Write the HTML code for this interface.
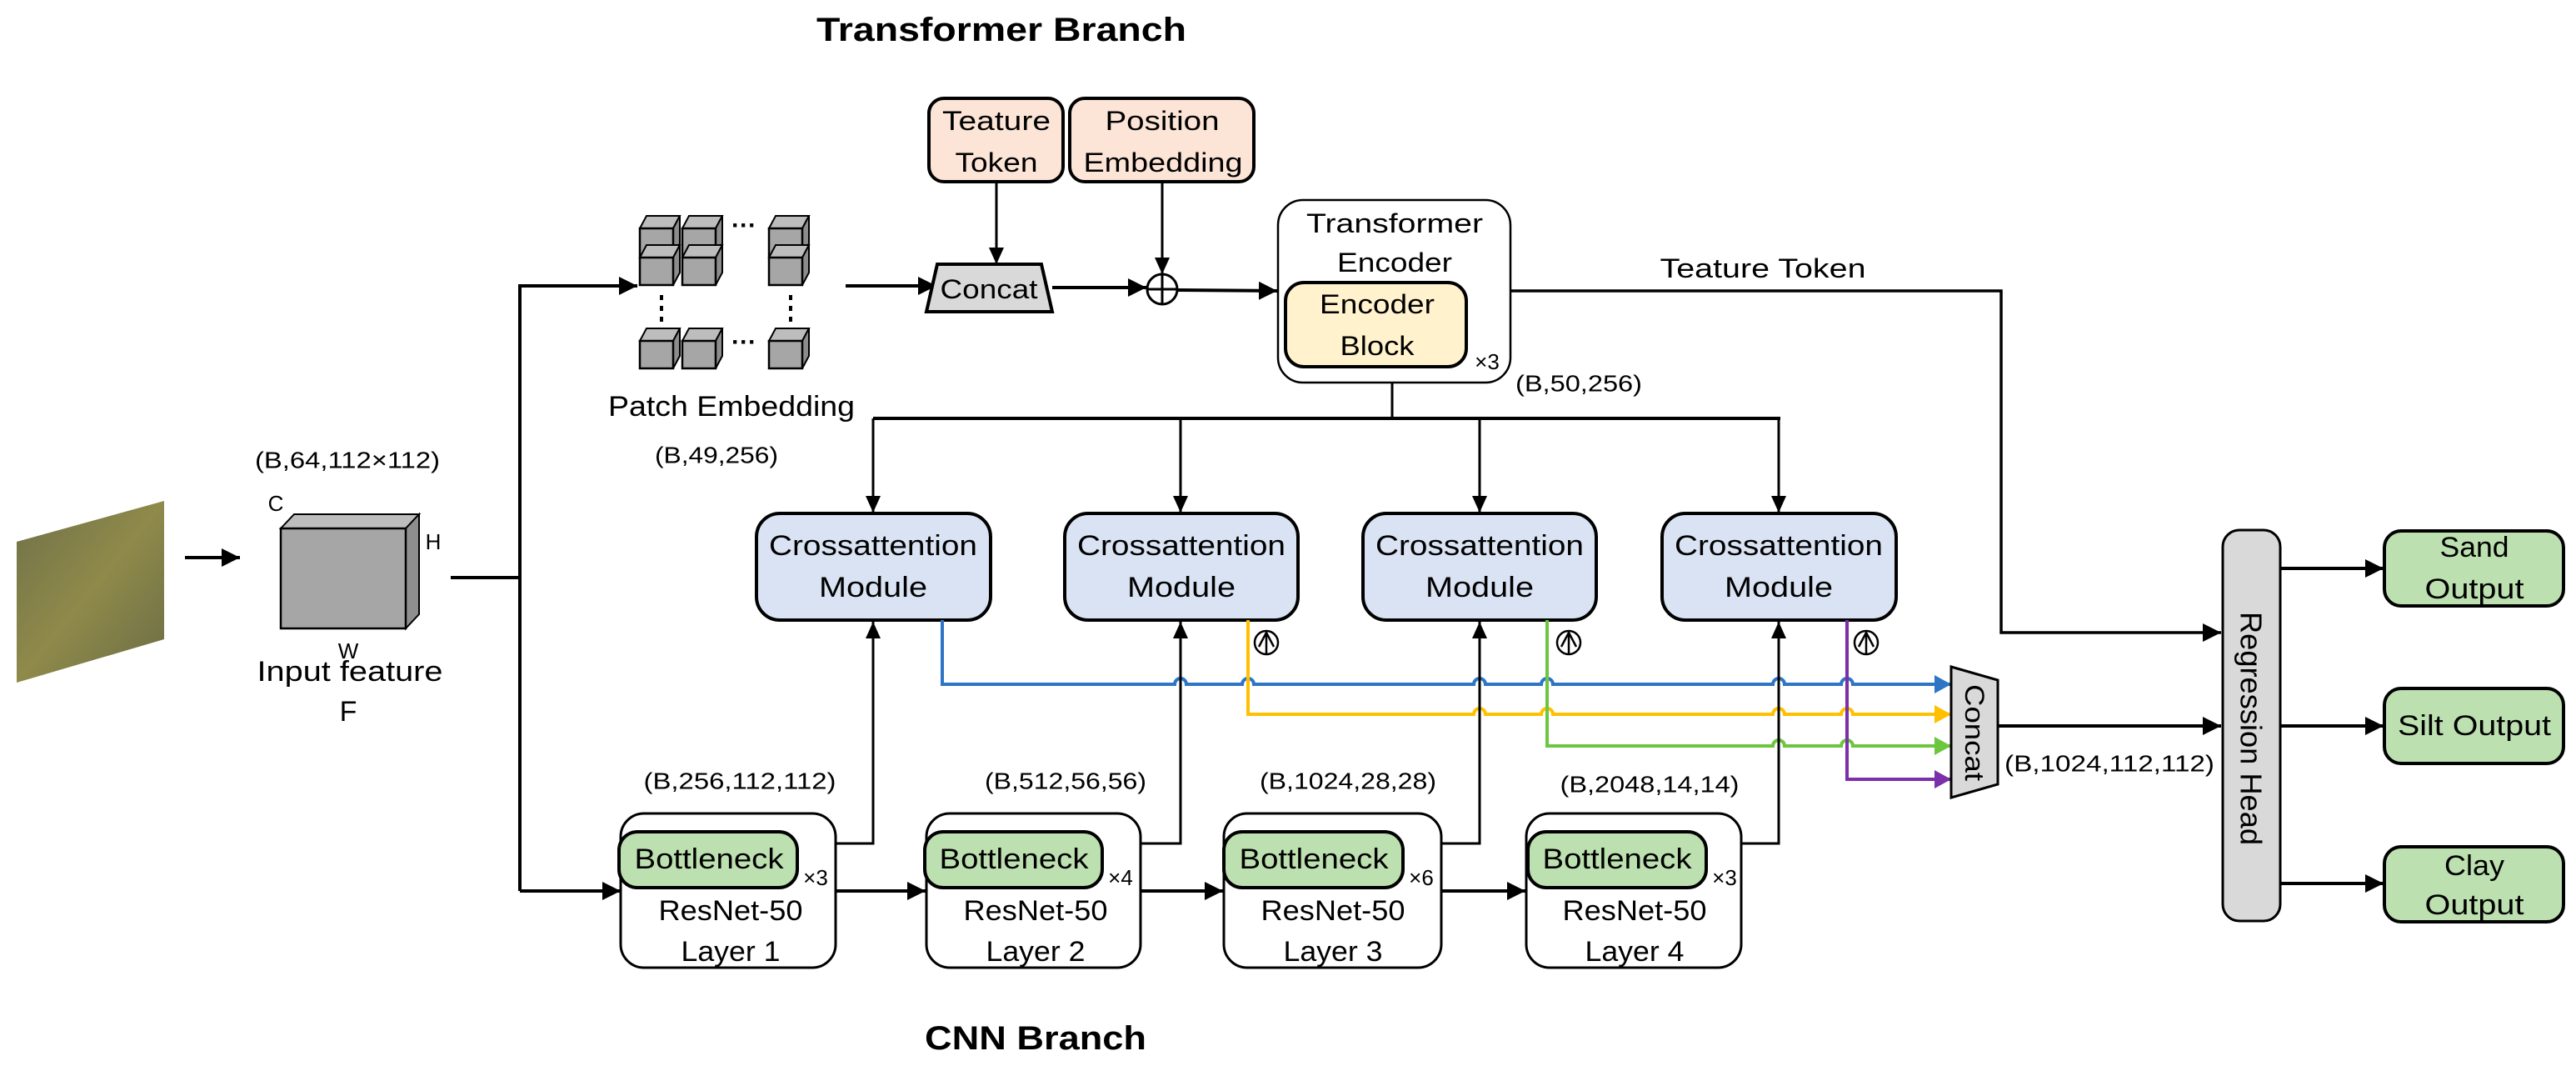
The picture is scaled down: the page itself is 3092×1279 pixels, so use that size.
<!DOCTYPE html>
<html><head><meta charset="utf-8"><style>
html,body{margin:0;padding:0;background:#fff;}
svg{display:block;}
text{font-family:"Liberation Sans",sans-serif;fill:#000;}
</style></head><body>
<svg width="3092" height="1279" viewBox="0 0 3092 1279" xmlns="http://www.w3.org/2000/svg">
<defs>
<marker id="ah" markerUnits="userSpaceOnUse" markerWidth="24" markerHeight="22" refX="22" refY="11" orient="auto"><path d="M0,0 L22,11 L0,22 z" fill="#000"/></marker>
<marker id="ahs" markerUnits="userSpaceOnUse" markerWidth="20" markerHeight="18" refX="20" refY="9" orient="auto"><path d="M0,0 L20,9 L0,18 z" fill="#000"/></marker>
<marker id="ab" markerUnits="userSpaceOnUse" markerWidth="22" markerHeight="22" refX="20" refY="11" orient="auto"><path d="M0,0 L20,11 L0,22 z" fill="#2E75C6"/></marker>
<marker id="ay" markerUnits="userSpaceOnUse" markerWidth="22" markerHeight="22" refX="20" refY="11" orient="auto"><path d="M0,0 L20,11 L0,22 z" fill="#FFC000"/></marker>
<marker id="ag" markerUnits="userSpaceOnUse" markerWidth="22" markerHeight="22" refX="20" refY="11" orient="auto"><path d="M0,0 L20,11 L0,22 z" fill="#6DC640"/></marker>
<marker id="ap" markerUnits="userSpaceOnUse" markerWidth="22" markerHeight="22" refX="20" refY="11" orient="auto"><path d="M0,0 L20,11 L0,22 z" fill="#7B2FA8"/></marker>
<linearGradient id="soil" x1="0" y1="0" x2="1" y2="1">
<stop offset="0" stop-color="#6f7048"/><stop offset="0.5" stop-color="#8f8a4a"/><stop offset="1" stop-color="#6a6c45"/></linearGradient>
<g id="cube"><path d="M0,0 h40 l8,-15 h-40 z" fill="#BDBDBD" stroke="#000" stroke-width="2"/><path d="M40,0 l8,-15 v33 l-8,15 z" fill="#8c8c8c" stroke="#000" stroke-width="2"/><rect x="0" y="0" width="40" height="33" fill="#A6A6A6" stroke="#000" stroke-width="2.5"/></g>
</defs>

<text x="1202" y="36" font-size="40" font-weight="bold" text-anchor="middle" dominant-baseline="central" textLength="444" lengthAdjust="spacingAndGlyphs">Transformer Branch</text>
<text x="1243" y="1246" font-size="40" font-weight="bold" text-anchor="middle" dominant-baseline="central" textLength="266" lengthAdjust="spacingAndGlyphs">CNN Branch</text>

<path d="M20,650 L197,601 L197,767 L20,819 z" fill="url(#soil)"/>
<line x1="222" y1="669" x2="288" y2="669" stroke="#000" stroke-width="4" marker-end="url(#ah)"/>

<path d="M337,634 l16,-17 h150 l-16,17 z" fill="#bdbdbd" stroke="#000" stroke-width="2"/>
<path d="M487,634 l16,-17 v120 l-16,17 z" fill="#8f8f8f" stroke="#000" stroke-width="2"/>
<rect x="337" y="634" width="150" height="120" fill="#A6A6A6" stroke="#000" stroke-width="2.5"/>
<text x="417" y="552" font-size="28" text-anchor="middle" dominant-baseline="central" textLength="222" lengthAdjust="spacingAndGlyphs">(B,64,112×112)</text>
<text x="331" y="604" font-size="26" text-anchor="middle" dominant-baseline="central">C</text>
<text x="520" y="650" font-size="26" text-anchor="middle" dominant-baseline="central">H</text>
<text x="418" y="781" font-size="26" text-anchor="middle" dominant-baseline="central">W</text>
<text x="420" y="806" font-size="34" text-anchor="middle" dominant-baseline="central" textLength="223" lengthAdjust="spacingAndGlyphs">Input feature</text>
<text x="418" y="854" font-size="34" text-anchor="middle" dominant-baseline="central">F</text>

<polyline points="541,693 624,693" fill="none" stroke="#000" stroke-width="4"/>
<polyline points="624,1069 624,343 765,343" fill="none" stroke="#000" stroke-width="4" marker-end="url(#ah)"/>
<polyline points="624,1069 745,1069" fill="none" stroke="#000" stroke-width="4" marker-end="url(#ah)"/>

<use href="#cube" x="768" y="274"/><use href="#cube" x="819" y="274"/><use href="#cube" x="923" y="274"/>
<use href="#cube" x="768" y="309"/><use href="#cube" x="819" y="309"/><use href="#cube" x="923" y="309"/>
<use href="#cube" x="768" y="409"/><use href="#cube" x="819" y="409"/><use href="#cube" x="923" y="409"/>
<text x="893" y="280" font-size="30" text-anchor="middle" font-weight="bold">···</text>
<text x="893" y="420" font-size="30" text-anchor="middle" font-weight="bold">···</text>
<line x1="794" y1="354" x2="794" y2="386" stroke="#000" stroke-width="4" stroke-dasharray="6,7"/>
<line x1="949" y1="354" x2="949" y2="386" stroke="#000" stroke-width="4" stroke-dasharray="6,7"/>
<text x="878" y="488" font-size="34" text-anchor="middle" dominant-baseline="central" textLength="296" lengthAdjust="spacingAndGlyphs">Patch Embedding</text>
<text x="860" y="546" font-size="28" text-anchor="middle" dominant-baseline="central" textLength="148" lengthAdjust="spacingAndGlyphs">(B,49,256)</text>

<rect x="1115" y="118" width="161" height="100" rx="18" fill="#FCE4D6" stroke="#000" stroke-width="4"/>
<text x="1196" y="145" font-size="32" text-anchor="middle" dominant-baseline="central" textLength="130" lengthAdjust="spacingAndGlyphs">Teature</text>
<text x="1196" y="195" font-size="32" text-anchor="middle" dominant-baseline="central" textLength="99" lengthAdjust="spacingAndGlyphs">Token</text>
<rect x="1284" y="118" width="221" height="100" rx="18" fill="#FCE4D6" stroke="#000" stroke-width="4"/>
<text x="1395" y="145" font-size="32" text-anchor="middle" dominant-baseline="central" textLength="137" lengthAdjust="spacingAndGlyphs">Position</text>
<text x="1396" y="195" font-size="32" text-anchor="middle" dominant-baseline="central" textLength="191" lengthAdjust="spacingAndGlyphs">Embedding</text>
<line x1="1196" y1="218" x2="1196" y2="317" stroke="#000" stroke-width="3" marker-end="url(#ahs)"/>
<line x1="1395" y1="218" x2="1395" y2="329" stroke="#000" stroke-width="3" marker-end="url(#ahs)"/>

<line x1="1015" y1="343" x2="1124" y2="343" stroke="#000" stroke-width="4" marker-end="url(#ah)"/>
<path d="M1125,317 L1250,317 L1263,374 L1112,374 z" fill="#D9D9D9" stroke="#000" stroke-width="4"/>
<text x="1187" y="347" font-size="32" text-anchor="middle" dominant-baseline="central" textLength="117" lengthAdjust="spacingAndGlyphs">Concat</text>
<line x1="1263" y1="345" x2="1376" y2="345" stroke="#000" stroke-width="4" marker-end="url(#ah)"/>
<circle cx="1395" cy="347" r="18" fill="#fff" stroke="#000" stroke-width="3"/>
<line x1="1377" y1="347" x2="1413" y2="347" stroke="#000" stroke-width="3"/>
<line x1="1395" y1="329" x2="1395" y2="365" stroke="#000" stroke-width="3"/>
<line x1="1413" y1="348" x2="1533" y2="349" stroke="#000" stroke-width="4" marker-end="url(#ah)"/>

<rect x="1534" y="240" width="279" height="219" rx="30" fill="#fff" stroke="#000" stroke-width="2.5"/>
<text x="1674" y="268" font-size="32" text-anchor="middle" dominant-baseline="central" textLength="212" lengthAdjust="spacingAndGlyphs">Transformer</text>
<text x="1674" y="315" font-size="32" text-anchor="middle" dominant-baseline="central" textLength="138" lengthAdjust="spacingAndGlyphs">Encoder</text>
<rect x="1543" y="339" width="217" height="101" rx="22" fill="#FFF2CC" stroke="#000" stroke-width="4"/>
<text x="1653" y="365" font-size="32" text-anchor="middle" dominant-baseline="central" textLength="138" lengthAdjust="spacingAndGlyphs">Encoder</text>
<text x="1653" y="415" font-size="32" text-anchor="middle" dominant-baseline="central" textLength="89" lengthAdjust="spacingAndGlyphs">Block</text>
<text x="1785" y="434" font-size="26" text-anchor="middle" dominant-baseline="central">×3</text>
<text x="1895" y="460" font-size="28" text-anchor="middle" dominant-baseline="central" textLength="152" lengthAdjust="spacingAndGlyphs">(B,50,256)</text>

<text x="2116" y="322" font-size="32" text-anchor="middle" dominant-baseline="central" textLength="247" lengthAdjust="spacingAndGlyphs">Teature Token</text>
<polyline points="1813,349 2402,349 2402,759 2666,759" fill="none" stroke="#000" stroke-width="3.5" marker-end="url(#ah)"/>

<polyline points="1671,459 1671,502" fill="none" stroke="#000" stroke-width="3"/>
<line x1="1048" y1="502" x2="2137" y2="502" stroke="#000" stroke-width="4"/>
<line x1="1048" y1="502" x2="1048" y2="615" stroke="#000" stroke-width="3" marker-end="url(#ahs)"/>
<line x1="1417" y1="502" x2="1417" y2="615" stroke="#000" stroke-width="3" marker-end="url(#ahs)"/>
<line x1="1776" y1="502" x2="1776" y2="615" stroke="#000" stroke-width="3" marker-end="url(#ahs)"/>
<line x1="2135" y1="502" x2="2135" y2="615" stroke="#000" stroke-width="3" marker-end="url(#ahs)"/>

<g font-size="34">
<rect x="908" y="616" width="281" height="128" rx="28" fill="#DAE3F3" stroke="#000" stroke-width="4"/>
<text x="1048" y="655" text-anchor="middle" dominant-baseline="central" textLength="250" lengthAdjust="spacingAndGlyphs">Crossattention</text>
<text x="1048" y="705" text-anchor="middle" dominant-baseline="central" textLength="130" lengthAdjust="spacingAndGlyphs">Module</text>
<rect x="1278" y="616" width="280" height="128" rx="28" fill="#DAE3F3" stroke="#000" stroke-width="4"/>
<text x="1418" y="655" text-anchor="middle" dominant-baseline="central" textLength="250" lengthAdjust="spacingAndGlyphs">Crossattention</text>
<text x="1418" y="705" text-anchor="middle" dominant-baseline="central" textLength="130" lengthAdjust="spacingAndGlyphs">Module</text>
<rect x="1636" y="616" width="280" height="128" rx="28" fill="#DAE3F3" stroke="#000" stroke-width="4"/>
<text x="1776" y="655" text-anchor="middle" dominant-baseline="central" textLength="250" lengthAdjust="spacingAndGlyphs">Crossattention</text>
<text x="1776" y="705" text-anchor="middle" dominant-baseline="central" textLength="130" lengthAdjust="spacingAndGlyphs">Module</text>
<rect x="1995" y="616" width="281" height="128" rx="28" fill="#DAE3F3" stroke="#000" stroke-width="4"/>
<text x="2135" y="655" text-anchor="middle" dominant-baseline="central" textLength="250" lengthAdjust="spacingAndGlyphs">Crossattention</text>
<text x="2135" y="705" text-anchor="middle" dominant-baseline="central" textLength="130" lengthAdjust="spacingAndGlyphs">Module</text>
</g>

<g fill="none" stroke="#000" stroke-width="2.5">
<circle cx="1520" cy="771" r="14"/><path d="M1520,785 V759 M1511,776 L1520,759 L1529,776"/>
<circle cx="1883" cy="771" r="14"/><path d="M1883,785 V759 M1874,776 L1883,759 L1892,776"/>
<circle cx="2240" cy="771" r="14"/><path d="M2240,785 V759 M2231,776 L2240,759 L2249,776"/>
</g>

<g fill="none" stroke-width="4">
<path d="M1131,744 V821 H1410 a7,7 0 0 1 14,0 H1491 a7,7 0 0 1 14,0 H1769 a7,7 0 0 1 14,0 H1850 a7,7 0 0 1 14,0 H2128 a7,7 0 0 1 14,0 H2210 a7,7 0 0 1 14,0 H2342" stroke="#2E75C6" marker-end="url(#ab)"/>
<path d="M1498,744 V857 H1769 a7,7 0 0 1 14,0 H1850 a7,7 0 0 1 14,0 H2128 a7,7 0 0 1 14,0 H2210 a7,7 0 0 1 14,0 H2342" stroke="#FFC000" marker-end="url(#ay)"/>
<path d="M1857,744 V895 H2128 a7,7 0 0 1 14,0 H2210 a7,7 0 0 1 14,0 H2342" stroke="#6DC640" marker-end="url(#ag)"/>
<path d="M2217,744 V935 H2342" stroke="#7B2FA8" marker-end="url(#ap)"/>
</g>

<g fill="none" stroke="#000" stroke-width="3">
<polyline points="1003,1012 1048,1012 1048,746" marker-end="url(#ahs)"/>
<polyline points="1369,1012 1417,1012 1417,746" marker-end="url(#ahs)"/>
<polyline points="1730,1012 1776,1012 1776,746" marker-end="url(#ahs)"/>
<polyline points="2090,1012 2135,1012 2135,746" marker-end="url(#ahs)"/>
</g>

<g font-size="28" text-anchor="middle">
<text x="888" y="937" dominant-baseline="central" textLength="231" lengthAdjust="spacingAndGlyphs">(B,256,112,112)</text>
<text x="1279" y="937" dominant-baseline="central" textLength="194" lengthAdjust="spacingAndGlyphs">(B,512,56,56)</text>
<text x="1618" y="937" dominant-baseline="central" textLength="212" lengthAdjust="spacingAndGlyphs">(B,1024,28,28)</text>
<text x="1980" y="941" dominant-baseline="central" textLength="215" lengthAdjust="spacingAndGlyphs">(B,2048,14,14)</text>
<text x="2532" y="916" dominant-baseline="central" textLength="252" lengthAdjust="spacingAndGlyphs">(B,1024,112,112)</text>
</g>

<g font-size="34">
<rect x="745" y="976" width="258" height="185" rx="28" fill="#fff" stroke="#000" stroke-width="3"/>
<rect x="743" y="998" width="214" height="67" rx="22" fill="#BDE0B0" stroke="#000" stroke-width="4"/>
<text x="851" y="1031" text-anchor="middle" dominant-baseline="central" textLength="179" lengthAdjust="spacingAndGlyphs">Bottleneck</text>
<text x="979" y="1053" font-size="26" text-anchor="middle" dominant-baseline="central">×3</text>
<text x="877" y="1093" text-anchor="middle" dominant-baseline="central" textLength="173" lengthAdjust="spacingAndGlyphs">ResNet-50</text>
<text x="877" y="1142" text-anchor="middle" dominant-baseline="central" textLength="119" lengthAdjust="spacingAndGlyphs">Layer 1</text>

<rect x="1112" y="976" width="257" height="185" rx="28" fill="#fff" stroke="#000" stroke-width="3"/>
<rect x="1110" y="998" width="213" height="67" rx="22" fill="#BDE0B0" stroke="#000" stroke-width="4"/>
<text x="1217" y="1031" text-anchor="middle" dominant-baseline="central" textLength="179" lengthAdjust="spacingAndGlyphs">Bottleneck</text>
<text x="1345" y="1053" font-size="26" text-anchor="middle" dominant-baseline="central">×4</text>
<text x="1243" y="1093" text-anchor="middle" dominant-baseline="central" textLength="173" lengthAdjust="spacingAndGlyphs">ResNet-50</text>
<text x="1243" y="1142" text-anchor="middle" dominant-baseline="central" textLength="119" lengthAdjust="spacingAndGlyphs">Layer 2</text>

<rect x="1469" y="976" width="261" height="185" rx="28" fill="#fff" stroke="#000" stroke-width="3"/>
<rect x="1469" y="998" width="215" height="67" rx="22" fill="#BDE0B0" stroke="#000" stroke-width="4"/>
<text x="1577" y="1031" text-anchor="middle" dominant-baseline="central" textLength="179" lengthAdjust="spacingAndGlyphs">Bottleneck</text>
<text x="1706" y="1053" font-size="26" text-anchor="middle" dominant-baseline="central">×6</text>
<text x="1600" y="1093" text-anchor="middle" dominant-baseline="central" textLength="173" lengthAdjust="spacingAndGlyphs">ResNet-50</text>
<text x="1600" y="1142" text-anchor="middle" dominant-baseline="central" textLength="119" lengthAdjust="spacingAndGlyphs">Layer 3</text>

<rect x="1832" y="976" width="258" height="185" rx="28" fill="#fff" stroke="#000" stroke-width="3"/>
<rect x="1834" y="998" width="214" height="67" rx="22" fill="#BDE0B0" stroke="#000" stroke-width="4"/>
<text x="1941" y="1031" text-anchor="middle" dominant-baseline="central" textLength="179" lengthAdjust="spacingAndGlyphs">Bottleneck</text>
<text x="2070" y="1053" font-size="26" text-anchor="middle" dominant-baseline="central">×3</text>
<text x="1962" y="1093" text-anchor="middle" dominant-baseline="central" textLength="173" lengthAdjust="spacingAndGlyphs">ResNet-50</text>
<text x="1962" y="1142" text-anchor="middle" dominant-baseline="central" textLength="119" lengthAdjust="spacingAndGlyphs">Layer 4</text>
</g>
<g stroke="#000" stroke-width="4">
<line x1="1003" y1="1069" x2="1111" y2="1069" marker-end="url(#ah)"/>
<line x1="1369" y1="1069" x2="1468" y2="1069" marker-end="url(#ah)"/>
<line x1="1730" y1="1069" x2="1831" y2="1069" marker-end="url(#ah)"/>
</g>

<path d="M2342,800 L2398,816 L2398,941 L2342,957 z" fill="#D9D9D9" stroke="#000" stroke-width="3"/>
<text transform="translate(2370,879) rotate(90)" font-size="32" text-anchor="middle" dominant-baseline="central" textLength="116" lengthAdjust="spacingAndGlyphs">Concat</text>
<line x1="2398" y1="871" x2="2666" y2="871" stroke="#000" stroke-width="4" marker-end="url(#ah)"/>

<rect x="2668" y="636" width="69" height="469" rx="20" fill="#D9D9D9" stroke="#000" stroke-width="3"/>
<text transform="translate(2702,874) rotate(90)" font-size="36" text-anchor="middle" dominant-baseline="central" textLength="280" lengthAdjust="spacingAndGlyphs">Regression Head</text>
<g stroke="#000" stroke-width="4">
<line x1="2737" y1="682" x2="2861" y2="682" marker-end="url(#ah)"/>
<line x1="2737" y1="871" x2="2861" y2="871" marker-end="url(#ah)"/>
<line x1="2737" y1="1060" x2="2861" y2="1060" marker-end="url(#ah)"/>
</g>

<g font-size="34" text-anchor="middle">
<rect x="2862" y="637" width="215" height="90" rx="20" fill="#BDE0B0" stroke="#000" stroke-width="4"/>
<text x="2970" y="657" dominant-baseline="central" textLength="83" lengthAdjust="spacingAndGlyphs">Sand</text>
<text x="2970" y="707" dominant-baseline="central" textLength="119" lengthAdjust="spacingAndGlyphs">Output</text>
<rect x="2862" y="826" width="215" height="90" rx="20" fill="#BDE0B0" stroke="#000" stroke-width="4"/>
<text x="2970" y="871" dominant-baseline="central" textLength="184" lengthAdjust="spacingAndGlyphs">Silt Output</text>
<rect x="2862" y="1016" width="215" height="90" rx="20" fill="#BDE0B0" stroke="#000" stroke-width="4"/>
<text x="2970" y="1039" dominant-baseline="central" textLength="72" lengthAdjust="spacingAndGlyphs">Clay</text>
<text x="2970" y="1086" dominant-baseline="central" textLength="119" lengthAdjust="spacingAndGlyphs">Output</text>
</g>
</svg>
</body></html>
